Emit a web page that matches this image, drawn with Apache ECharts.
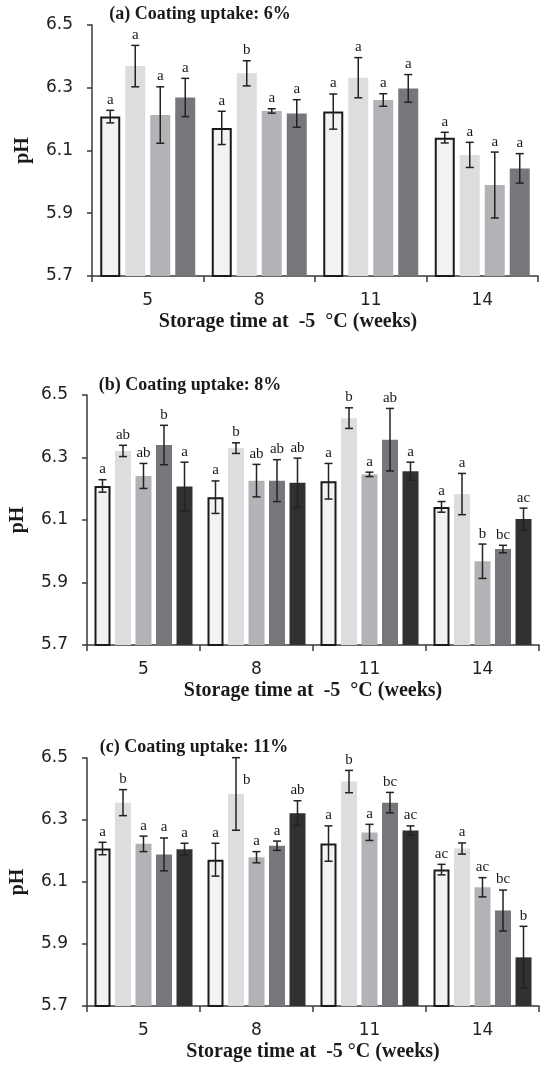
<!DOCTYPE html>
<html>
<head>
<meta charset="utf-8">
<script src="https://cdn.jsdelivr.net/npm/echarts@6/dist/echarts.min.js"></script>
<style>
html,body{margin:0;padding:0;background:#fff;}
#chart{width:540px;height:1066px;}
</style>
</head>
<body>
<div id="chart"></div>
<script>
// ---------- data ----------
const weeks = ['5', '8', '11', '14'];
const yTicks = [5.7, 5.9, 6.1, 6.3, 6.5];
const panelTitles = ['(a) Coating uptake: 6%', '(b) Coating uptake: 8%', '(c) Coating uptake: 11%'];
const xNames = ['Storage time at  -5  °C (weeks)', 'Storage time at  -5  °C (weeks)', 'Storage time at  -5 °C (weeks)'];
const yName = 'pH';

// Panel (a) – 4 treatments, values per week 5, 8, 11, 14
const meanA = [
  [6.208, 6.172, 6.224, 6.141],
  [6.369, 6.346, 6.332, 6.086],
  [6.213, 6.226, 6.261, 5.990],
  [6.269, 6.218, 6.298, 6.043]
];
const errA = [
  [0.020, 0.053, 0.056, 0.017],
  [0.066, 0.040, 0.064, 0.040],
  [0.090, 0.007, 0.020, 0.105],
  [0.061, 0.044, 0.044, 0.047]
];
const letA = [
  ['a', 'a', 'a', 'a'],
  ['a', 'b', 'a', 'a'],
  ['a', 'a', 'a', 'a'],
  ['a', 'a', 'a', 'a']
];

// Panel (b) – 5 treatments
const meanB = [
  [6.209, 6.173, 6.224, 6.142],
  [6.321, 6.330, 6.426, 6.183],
  [6.241, 6.226, 6.246, 5.968],
  [6.340, 6.226, 6.357, 6.007],
  [6.207, 6.219, 6.256, 6.103]
];
const errB = [
  [0.020, 0.052, 0.057, 0.017],
  [0.018, 0.017, 0.033, 0.066],
  [0.040, 0.052, 0.007, 0.055],
  [0.063, 0.067, 0.100, 0.012],
  [0.078, 0.079, 0.029, 0.035]
];
const letB = [
  ['a', 'a', 'a', 'a'],
  ['ab', 'b', 'b', 'a'],
  ['ab', 'ab', 'a', 'b'],
  ['b', 'ab', 'ab', 'bc'],
  ['a', 'ab', 'a', 'ac']
];

// Panel (c) – 5 treatments
const meanC = [
  [6.208, 6.172, 6.224, 6.140],
  [6.356, 6.384, 6.424, 6.208],
  [6.223, 6.180, 6.260, 6.083],
  [6.189, 6.217, 6.356, 6.008],
  [6.206, 6.322, 6.266, 5.857]
];
const errC = [
  [0.020, 0.053, 0.057, 0.017],
  [0.042, 0.117, 0.036, 0.018],
  [0.025, 0.018, 0.026, 0.031],
  [0.053, 0.015, 0.033, 0.066],
  [0.019, 0.040, 0.015, 0.100]
];
const letC = [
  ['a', 'a', 'a', 'ac'],
  ['b', 'b', 'b', 'a'],
  ['a', 'a', 'a', 'ac'],
  ['a', 'a', 'bc', 'bc'],
  ['a', 'ab', 'ac', 'b']
];

// ---------- styles ----------
const fills = ['#f1f2f4', '#dcdddf', '#b2b3b6', '#76777b', '#323031'];
const SERIF = '"Liberation Serif", "Times New Roman", serif';
const SANS = '"DejaVu Sans", sans-serif';
const ink = '#1a1a1a';

const panels = [
  { mean: meanA, err: errA, let: letA, grid: { left: 92, top: 25, width: 446, height: 251 }, bw: 20, gap: 5, title: { x: 200, y: 14 }, xNameShift: 54 },
  { mean: meanB, err: errB, let: letB, grid: { left: 87, top: 395, width: 452, height: 250 }, bw: 16, gap: 4.5, title: { x: 190, y: 385 }, xNameShift: 0 },
  { mean: meanC, err: errC, let: letC, grid: { left: 87, top: 758, width: 452, height: 248 }, bw: 16, gap: 4.5, title: { x: 194, y: 747 }, xNameShift: 0 }
];

const option = {
  animation: false,
  backgroundColor: '#ffffff',
  grid: [], xAxis: [], yAxis: [], series: [], graphic: []
};

panels.forEach((p, pi) => {
  option.grid.push(Object.assign({ containLabel: false }, p.grid));
  option.xAxis.push({
    type: 'category', gridIndex: pi, data: weeks,
    axisLine: { lineStyle: { color: '#3a3a3a', width: 1.5 } },
    axisTick: { show: true, length: 6, inside: false, lineStyle: { color: '#3a3a3a', width: 1.5 } },
    axisLabel: { fontFamily: SANS, fontSize: 17, color: '#222', margin: 16 },
    name: xNames[pi], nameLocation: 'middle', nameGap: 36,
    nameTextStyle: { fontFamily: SERIF, fontWeight: 'bold', fontSize: 20, color: ink, padding: [0, p.xNameShift, 0, 0] }
  });
  option.yAxis.push({
    type: 'value', gridIndex: pi, min: yTicks[0], max: yTicks[yTicks.length - 1], interval: 0.2,
    splitLine: { show: false },
    axisLine: { show: true, lineStyle: { color: '#3a3a3a', width: 1.5 } },
    axisTick: { show: true, length: 5, lineStyle: { color: '#3a3a3a', width: 1.5 } },
    axisLabel: { fontFamily: SANS, fontSize: 17, color: '#222', margin: 19, formatter: v => v.toFixed(1) },
    name: yName, nameLocation: 'middle', nameRotate: 90, nameGap: 59,
    nameTextStyle: { fontFamily: SERIF, fontWeight: 'bold', fontSize: 20, color: ink }
  });

  const n = p.mean.length;
  p.mean.forEach((vals, si) => {
    option.series.push({
      type: 'bar', xAxisIndex: pi, yAxisIndex: pi,
      data: vals, barWidth: p.bw, barGap: (p.gap / p.bw * 100) + '%',
      itemStyle: si === 0 ? { color: fills[si], borderColor: ink, borderWidth: 2 } : { color: fills[si] },
      z: 2
    });
  });

  // error bars + letters
  const rows = [];
  p.mean.forEach((vals, si) => vals.forEach((v, ci) => rows.push([ci, si, v, p.err[si][ci], p.let[si][ci]])));
  const pitch = p.bw + p.gap;
  option.series.push({
    type: 'custom', xAxisIndex: pi, yAxisIndex: pi, z: 5, clip: false,
    encode: { x: 0, y: 2 },
    data: rows,
    renderItem: (params, api) => {
      const ci = api.value(0), si = api.value(1), m = api.value(2), e = api.value(3);
      const letter = rows[params.dataIndex][4];
      const c = api.coord([ci, m]);
      const x = c[0] + (si - (n - 1) / 2) * pitch;
      const yt = api.coord([ci, m + e])[1];
      const yb = api.coord([ci, m - e])[1];
      const cap = 4;
      const ls = { stroke: '#222', lineWidth: 1.5 };
      const gridTop = params.coordSys.y;
      const children = [
        { type: 'line', shape: { x1: x, y1: yt, x2: x, y2: yb }, style: ls },
        { type: 'line', shape: { x1: x - cap, y1: yt, x2: x + cap, y2: yt }, style: ls },
        { type: 'line', shape: { x1: x - cap, y1: yb, x2: x + cap, y2: yb }, style: ls }
      ];
      const top = Math.min(yt, c[1]);
      if (top - 4 < gridTop) {
        children.push({ type: 'text', style: { text: letter, x: x + 7, y: top + 22, textAlign: 'left', textVerticalAlign: 'middle', font: '15px ' + SERIF, fill: ink } });
      } else {
        children.push({ type: 'text', style: { text: letter, x: x, y: top - 3, textAlign: 'center', textVerticalAlign: 'bottom', font: '15px ' + SERIF, fill: ink } });
      }
      return { type: 'group', children };
    }
  });

  option.graphic.push({
    type: 'text', x: p.title.x, y: p.title.y,
    style: { text: panelTitles[pi], font: 'bold 18px ' + SERIF, fill: ink, textAlign: 'center', textVerticalAlign: 'middle' }
  });
});

const chart = echarts.init(document.getElementById('chart'));
chart.setOption(option);
</script>
</body>
</html>
